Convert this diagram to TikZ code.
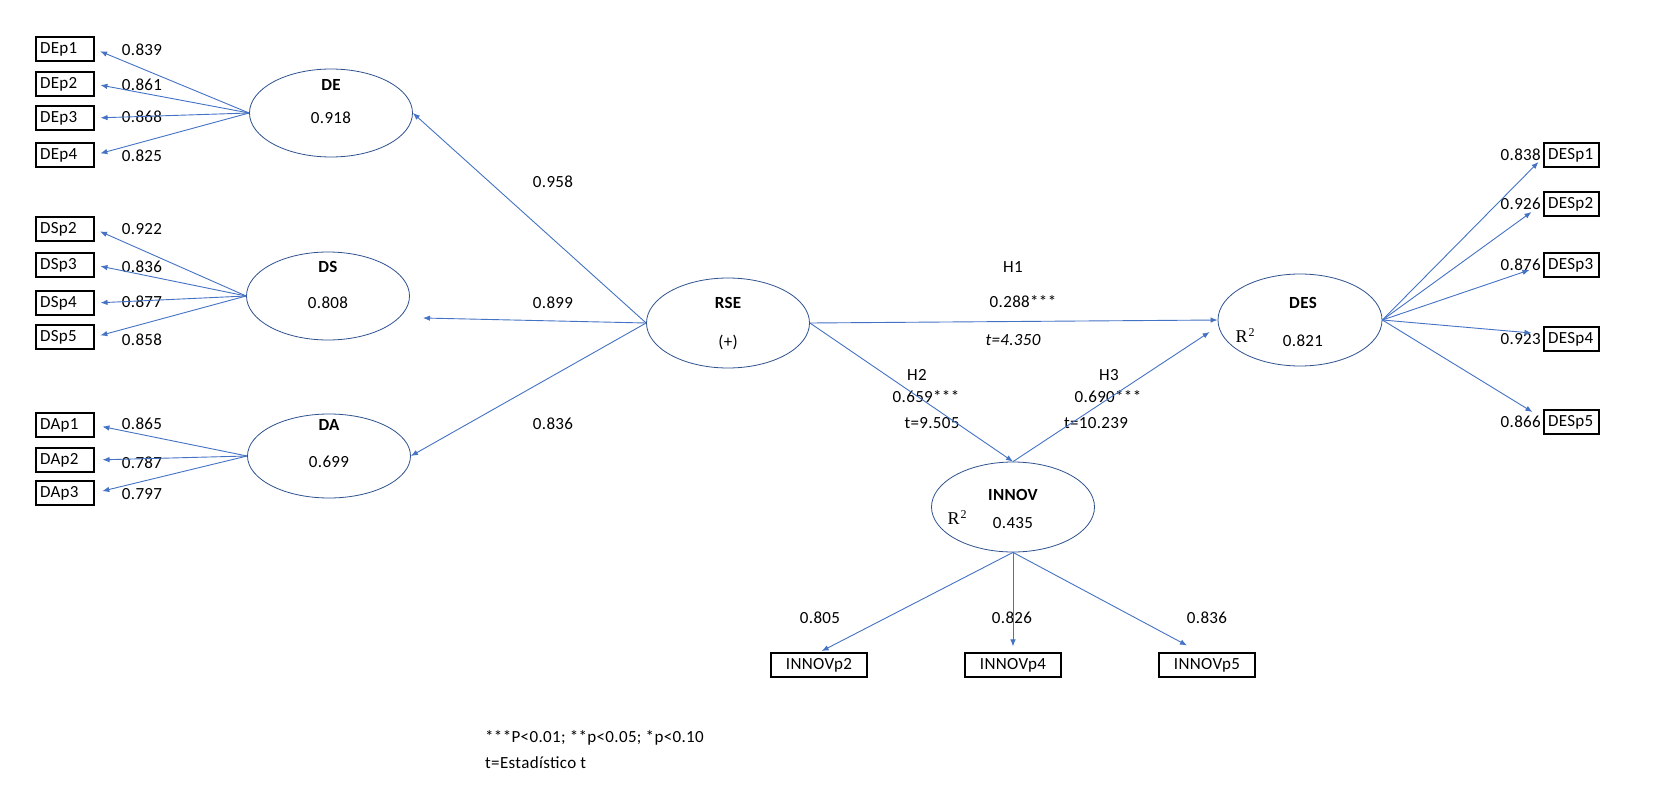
\documentclass[tikz,border=0pt]{standalone}
\usepackage{fontspec}
\setmainfont{Carlito}[LetterSpace=2]
\newfontfamily\rfont{Liberation Serif}
\usetikzlibrary{shapes.geometric,arrows.meta,calc}
\definecolor{ellc}{HTML}{2F528F}
\definecolor{arrc}{HTML}{4472C4}
\newcommand\fs{\fontsize{17}{19}\selectfont}
\newcommand\rsq{{\rfont\fontsize{18}{20}\selectfont R\kern1pt\raisebox{6pt}{\fontsize{12}{12}\selectfont 2}}}
\begin{document}
\begin{tikzpicture}[x=1pt,y=-1pt,
  lat/.style={ellipse,draw=ellc,line width=0.8pt,minimum width=163pt,minimum height=88pt,inner sep=0pt},
  indl/.style={draw=black,line width=1.1pt,minimum height=24pt,inner sep=4pt,text width=#1,align=left,font=\fs},
  indc/.style={draw=black,line width=1.1pt,minimum height=24pt,minimum width=96pt,inner sep=3pt,font=\fs},
  arr/.style={draw=arrc,line width=0.9pt,-{Latex[length=7pt,width=5.5pt]}},
  lbl/.style={font=\fs,inner sep=0pt},
  ttl/.style={font=\fs\bfseries,inner sep=0pt},
]
\useasboundingbox (0,0) rectangle (1658,808);
\fill[white] (0,0) rectangle (1658,808);

% latent variables
\node[lat] (DE) at (331,113) {};
\node[lat] (DS) at (328,296) {};
\node[lat,minimum height=84pt] (DA) at (329,456) {};
\node[lat,minimum height=90pt] (RSE) at (728,323) {};
\node[lat,minimum width=164pt,minimum height=92pt] (DES) at (1300,320) {};
\node[lat,minimum height=90pt] (INNOV) at (1013,507) {};

\node[ttl] (DEt) at (331,85) {DE};
\node[lbl] (DEv) at (331,118) {0.918};
\node[ttl] (DSt) at (328,267) {DS};
\node[lbl] (DSv) at (328,303) {0.808};
\node[ttl] (DAt) at (329,425) {DA};
\node[lbl] (DAv) at (329,462) {0.699};
\node[ttl] (RSEt) at (728,303) {RSE};
\node[lbl] (RSEv) at (728,342) {(+)};
\node[ttl] (DESt) at (1303,303) {DES};
\node[lbl] (DESv) at (1303,341) {0.821};
\node[inner sep=0pt] (DESr) at (1245,336) {\rsq};
\node[ttl] (INNOVt) at (1013,495) {INNOV};
\node[lbl] (INNOVv) at (1013,523) {0.435};
\node[inner sep=0pt] (INNOVr) at (957,518) {\rsq};

% indicators
\node[indl=50pt] (DEp1) at (65,49) {DEp1};
\node[indl=50pt] (DEp2) at (65,84) {DEp2};
\node[indl=50pt] (DEp3) at (65,118) {DEp3};
\node[indl=50pt] (DEp4) at (65,155) {DEp4};
\node[indl=50pt] (DSp2) at (65,229) {DSp2};
\node[indl=50pt] (DSp3) at (65,265) {DSp3};
\node[indl=50pt] (DSp4) at (65,303) {DSp4};
\node[indl=50pt] (DSp5) at (65,337) {DSp5};
\node[indl=50pt] (DAp1) at (65,425) {DAp1};
\node[indl=50pt] (DAp2) at (65,460) {DAp2};
\node[indl=50pt] (DAp3) at (65,493) {DAp3};
\node[indl=47pt] (DESp1) at (1571.5,155) {DESp1};
\node[indl=47pt] (DESp2) at (1571.5,204) {DESp2};
\node[indl=47pt] (DESp3) at (1571.5,265) {DESp3};
\node[indl=47pt] (DESp4) at (1571.5,339) {DESp4};
\node[indl=47pt] (DESp5) at (1571.5,422) {DESp5};
\node[indc] (INNOVp2) at (819,665) {INNOVp2};
\node[indc] (INNOVp4) at (1013,665) {INNOVp4};
\node[indc] (INNOVp5) at (1207,665) {INNOVp5};

% loadings
\foreach \n/\y/\v in {a1/50/0.839,a2/85/0.861,a3/117/0.868,a4/156/0.825,
  b1/229/0.922,b2/267/0.836,b3/302/0.877,b4/340/0.858,
  c1/424/0.865,c2/463/0.787,c3/494/0.797}
  \node[lbl] (L\n) at (142,\y) {\v};
\foreach \n/\y/\v in {d1/155/0.838,d2/204/0.926,d3/265/0.876,d4/339/0.923,d5/422/0.866}
  \node[lbl,anchor=east] (L\n) at (1541,\y) {\v};
\node[lbl] (Le1) at (820,618) {0.805};
\node[lbl] (Le2) at (1012,618) {0.826};
\node[lbl] (Le3) at (1207,618) {0.836};
\node[lbl] (Lr1) at (553,182) {0.958};
\node[lbl] (Lr2) at (553,303) {0.899};
\node[lbl] (Lr3) at (553,424) {0.836};

% path labels
\node[lbl] (H1) at (1013,267) {H1};
\node[lbl] (H1b) at (1023,302) {0.288***};
\node[lbl] (H1t) at (1013,340) {\itshape t=4.350};
\node[lbl] (H2) at (917,375) {H2};
\node[lbl] (H2b) at (926,397) {0.659***};
\node[lbl] (H2t) at (932,423) {t=9.505};
\node[lbl] (H3) at (1109,375) {H3};
\node[lbl] (H3b) at (1108,397) {0.690***};
\node[lbl] (H3t) at (1096,423) {t=10.239};

% footnote
\node[lbl,anchor=west] (fn1) at (485,738) {***P<0.01; **p<0.05; *p<0.10};
\node[lbl,anchor=west] (fn2) at (485,763) {t=Estadístico t};

% arrows
\foreach \t in {DEp1,DEp2,DEp3,DEp4} \draw[arr,shorten >=6pt] (DE.west) -- (\t.east);
\foreach \t in {DSp2,DSp3,DSp4,DSp5} \draw[arr,shorten >=6pt] (DS.west) -- (\t.east);
\foreach \t in {DAp1,DAp2,DAp3} \draw[arr,shorten >=8pt] (DA.west) -- (\t.east);
\coordinate (dsin) at (423,318);
\draw[arr] (RSE.west) -- (DE.east);
\draw[arr] (RSE.west) -- (dsin);
\draw[arr] (RSE.west) -- (DA.east);
\draw[arr] (RSE.east) -- (DES.west);
\draw[arr] (RSE.east) -- (INNOV.north);
\draw[arr] (INNOV.north) -- ($(DES.west)+(-8,12)$);
\draw[arr] (DES.east) -- ($(DESp1.west)+(-5,7)$);
\draw[arr] (DES.east) -- ($(DESp2.west)+(-12,8)$);
\draw[arr] (DES.east) -- ($(DESp3.west)+(-14,5)$);
\draw[arr] (DES.east) -- ($(DESp4.west)+(-12,-6)$);
\draw[arr] (DES.east) -- ($(DESp5.west)+(-11,-10)$);
\draw[arr,shorten >=3pt] (INNOV.south) -- (INNOVp2.north);
\draw[arr,shorten >=6pt] (INNOV.south) -- (INNOVp4.north);
\draw[arr] (INNOV.south) -- ($(INNOVp5.north)+(-20,-7)$);
\end{tikzpicture}
\end{document}
